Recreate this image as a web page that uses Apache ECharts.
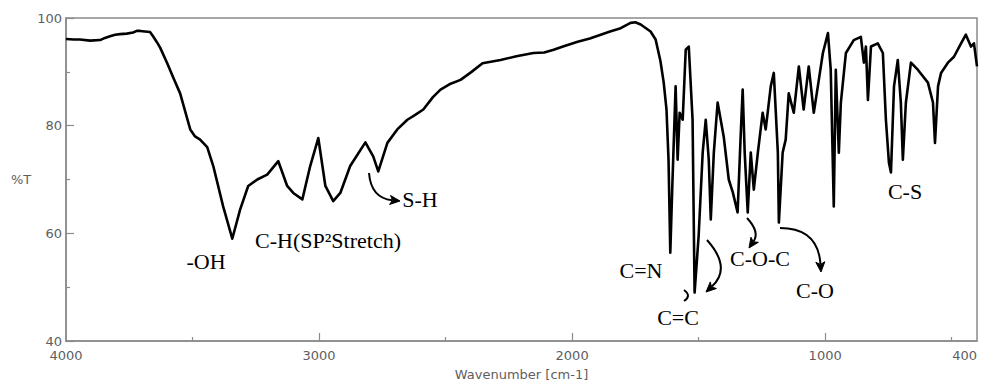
<!DOCTYPE html>
<html>
<head>
<meta charset="utf-8">
<script src="https://cdn.jsdelivr.net/npm/echarts@6/dist/echarts.min.js"></script>
<style>
html,body{margin:0;padding:0;background:#fff;}
#chart{width:981px;height:383px;}
</style>
</head>
<body>
<div id="chart"></div>
<script>
// ---- data ----
const wavenumber = [4000,3970,3945,3905,3865,3846,3826,3806,3786,3760,3735,3720,3707,3688,3668,3656,3642,3628,3600,3575,3549,3509,3490,3470,3442,3418,3379,3343,3312,3280,3244,3205,3161,3126,3102,3066,3035,3003,2975,2944,2916,2877,2817,2786,2766,2730,2691,2651,2620,2588,2550,2520,2480,2441,2400,2354,2283,2220,2153,2110,2073,2030,1978,1930,1887,1850,1808,1769,1750,1729,1690,1670,1651,1638,1627,1619,1612,1604,1591,1583,1575,1563,1551,1539,1524,1516,1500,1484,1472,1460,1452,1440,1425,1401,1381,1365,1346,1334,1326,1318,1306,1294,1282,1266,1247,1235,1215,1203,1187,1183,1168,1156,1144,1124,1104,1085,1065,1045,1029,1009,989,978,966,958,946,938,918,887,859,847,839,831,819,792,772,760,748,740,728,713,701,693,681,661,634,594,574,566,554,542,515,491,463,444,424,412,400];
const transmittance = [96.1,96.0,96.0,95.8,95.9,96.3,96.6,96.9,97.0,97.1,97.3,97.6,97.6,97.5,97.4,96.6,95.6,94.5,91.6,88.8,86.0,79.3,78.0,77.4,76.0,72.5,65.0,59.0,64.4,68.8,70.0,70.9,73.4,68.8,67.5,66.3,72.5,77.7,68.8,66.0,67.5,72.5,76.9,74.3,71.5,76.8,79.3,81.1,82.0,83.0,85.3,86.7,87.8,88.5,89.9,91.6,92.2,92.9,93.5,93.6,94.1,94.8,95.6,96.2,96.9,97.5,98.1,99.1,99.2,98.8,97.5,96.0,92.0,88.0,83.0,73.7,56.4,68.8,87.3,73.7,82.4,81.1,94.1,94.7,81.1,49.0,59.5,75.0,81.1,73.7,62.6,75.0,84.3,78.0,70.0,67.6,63.9,78.0,86.7,75.0,63.9,75.0,68.1,75.0,82.4,79.3,87.3,89.8,75.0,62.0,75.0,77.4,86.0,82.4,91.0,83.0,91.0,82.4,87.3,93.5,97.2,90.4,65.0,90.4,75.0,84.3,93.5,95.9,96.5,91.7,94.7,84.8,94.7,95.3,93.5,81.1,73.1,71.3,87.3,92.2,84.3,73.7,84.3,91.7,90.4,88.0,84.3,76.8,87.3,89.8,91.7,92.8,95.3,96.9,94.7,95.3,91.0];
const xLabelValues = [4000, 3000, 2000, 1000, 400];
const xMajorTicks = [3000, 2000, 1000];
const xMinorTicks = [3500, 2500, 1500, 500];
const yMin = 40, yMax = 100, yStep = 20;
const xName = 'Wavenumber [cm-1]';
const yName = '%T';
const annotations = [
  { text: '-OH', x: 206, y: 261 },
  { text: 'C-H(SP\u00B2Stretch)', x: 328, y: 240 },
  { text: 'S-H', x: 420, y: 199 },
  { text: 'C=N', x: 641, y: 270 },
  { text: 'C=C', x: 678, y: 317 },
  { text: 'C-O-C', x: 760, y: 258 },
  { text: 'C-O', x: 815, y: 290 },
  { text: 'C-S', x: 905, y: 191 }
];
// arrows: start, control, tip (pixel positions of the drawn annotations)
const arrows = [
  [369, 173, 371, 198, 400, 201],
  [707, 240, 732, 268, 706, 292],
  [747, 218, 760, 232, 749, 248],
  [780, 228, 818, 228, 821, 272]
];

const seriesData = wavenumber.map((w, i) => [w, transmittance[i]]);
const axisGray = '#8a8a8a';
const labelGray = '#5e5e5e';
const labelFont = '"DejaVu Sans", Verdana, sans-serif';

function arrowGraphics(a) {
  const [x0, y0, cx, cy, x1, y1] = a;
  let dx = x1 - cx, dy = y1 - cy;
  const len = Math.hypot(dx, dy); dx /= len; dy /= len;
  const hl = 10, hw = 4.5;
  const bx = x1 - dx * hl, by = y1 - dy * hl;
  return [
    { type: 'bezierCurve', silent: true, z: 100,
      shape: { x1: x0, y1: y0, cpx1: cx, cpy1: cy, x2: bx + dx * 2, y2: by + dy * 2 },
      style: { stroke: '#000', lineWidth: 2, fill: null } },
    { type: 'polygon', silent: true, z: 100,
      shape: { points: [[x1, y1], [bx - dy * hw, by + dx * hw], [bx + dx * 2.5, by + dy * 2.5], [bx + dy * hw, by - dx * hw]] },
      style: { fill: '#000', stroke: '#000', lineWidth: 1 } }
  ];
}

const graphics = [];
annotations.forEach(t => graphics.push({
  type: 'text', x: t.x, y: t.y, z: 100, silent: true,
  style: { text: t.text, fill: '#000', font: '22px "Liberation Serif", "Times New Roman", serif',
           textAlign: 'center', textVerticalAlign: 'middle' }
}));
arrows.forEach(a => graphics.push(...arrowGraphics(a)));
graphics.push({ type: 'bezierCurve', silent: true, z: 100,
  shape: { x1: 684, y1: 290, cpx1: 692, cpy1: 296, x2: 684, y2: 301 },
  style: { stroke: '#000', lineWidth: 2, fill: null } });

const chart = echarts.init(document.getElementById('chart'), null, { renderer: 'svg', width: 981, height: 383 });
chart.setOption({
  animation: false,
  backgroundColor: '#ffffff',
  grid: { left: 66, right: 4, top: 18, bottom: 42, show: true, borderColor: axisGray, borderWidth: 1.5,
          backgroundColor: 'transparent', outerBoundsMode: 'none', containLabel: false },
  xAxis: [
    { type: 'value', min: 400, max: 4000, inverse: true, position: 'bottom',
      axisLine: { show: true, lineStyle: { color: axisGray, width: 1.5 } },
      axisTick: { show: true, inside: true, length: 8, customValues: xMajorTicks, lineStyle: { color: axisGray, width: 1.2 } },
      axisLabel: { customValues: xLabelValues, formatter: v => String(v), color: labelGray, fontSize: 13, fontFamily: labelFont, margin: 8,
                   alignMaxLabel: 'right' },
      splitLine: { show: false },
      name: xName, nameLocation: 'middle', nameGap: 27,
      nameTextStyle: { color: labelGray, fontSize: 13, fontFamily: labelFont } },
    { type: 'value', min: 400, max: 4000, inverse: true, position: 'bottom',
      axisLine: { show: false },
      axisTick: { show: true, inside: true, length: 4, customValues: xMinorTicks, lineStyle: { color: axisGray, width: 1.2 } },
      axisLabel: { show: false }, splitLine: { show: false } }
  ],
  yAxis: {
    type: 'value', min: yMin, max: yMax, interval: yStep,
    axisLine: { show: true, lineStyle: { color: axisGray, width: 1.5 } },
    axisTick: { show: true, inside: true, length: 8, lineStyle: { color: axisGray, width: 1.2 } },
    minorTick: { show: true, splitNumber: 2, length: 4, lineStyle: { color: axisGray, width: 1.2 } },
    axisLabel: { color: labelGray, fontSize: 13, fontFamily: labelFont, margin: 4 },
    splitLine: { show: false }, minorSplitLine: { show: false },
    name: yName, nameLocation: 'middle', nameGap: 33, nameRotate: 0,
    nameTextStyle: { color: labelGray, fontSize: 13, fontFamily: labelFont, padding: [15, 0, 0, 0] }
  },
  series: [{
    type: 'line', data: seriesData, showSymbol: false, symbol: 'none', smooth: false,
    lineStyle: { color: '#000', width: 2.6, join: 'round' }, z: 10
  }],
  graphic: graphics
});
</script>
</body>
</html>
